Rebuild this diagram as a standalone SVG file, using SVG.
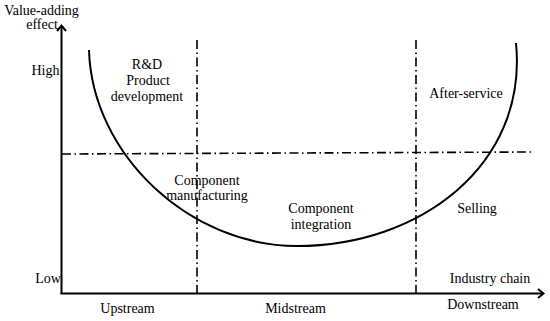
<svg xmlns="http://www.w3.org/2000/svg" width="550" height="321" viewBox="0 0 550 321">
<defs>
<style>
text{font-family:"Liberation Serif","Times New Roman",serif;font-size:14px;fill:#000;text-anchor:middle}
.axis{stroke:#000;stroke-width:2;fill:none}
.dd{stroke:#000;stroke-width:1.6;fill:none;stroke-dasharray:9 3.5 1.5 3.5}
.curve{stroke:#000;stroke-width:2;fill:none}
</style>
</defs>
<rect width="550" height="321" fill="#fff"/>
<g id="connectors">
<path class="axis" d="M61.5,294 V26"/>
<path class="axis" d="M57,31 L61.5,25.5 L66,31"/>
<path class="axis" d="M60.5,293.5 H543"/>
<path class="axis" d="M538,289 L543.5,293.5 L538,298"/>
<path class="dd" d="M197,40 V293"/>
<path class="dd" d="M416,40 V293"/>
<path class="dd" d="M62,154 L533,152"/>
<path class="curve" d="M89,50 C92,155 190,246 297,246 C420,246 528,165 516,43"/>
</g>
<g id="y-label"><text x="41.5" y="15">Value-adding</text><text x="42" y="29">effect</text></g>
<g id="high"><text x="45.5" y="75">High</text></g>
<g id="low"><text x="48" y="283">Low</text></g>
<g id="rd"><text x="147" y="69">R&amp;D</text><text x="148" y="85">Product</text><text x="147" y="101">development</text></g>
<g id="after-service"><text x="466" y="98">After-service</text></g>
<g id="manufacturing"><text x="207" y="185">Component</text><text x="207" y="200">manufacturing</text></g>
<g id="integration"><text x="321" y="213">Component</text><text x="321" y="229">integration</text></g>
<g id="selling"><text x="477" y="213">Selling</text></g>
<g id="industry-chain"><text x="490" y="283">Industry chain</text></g>
<g id="upstream"><text x="127.5" y="313">Upstream</text></g>
<g id="midstream"><text x="295.5" y="313">Midstream</text></g>
<g id="downstream"><text x="483" y="309">Downstream</text></g>
</svg>
